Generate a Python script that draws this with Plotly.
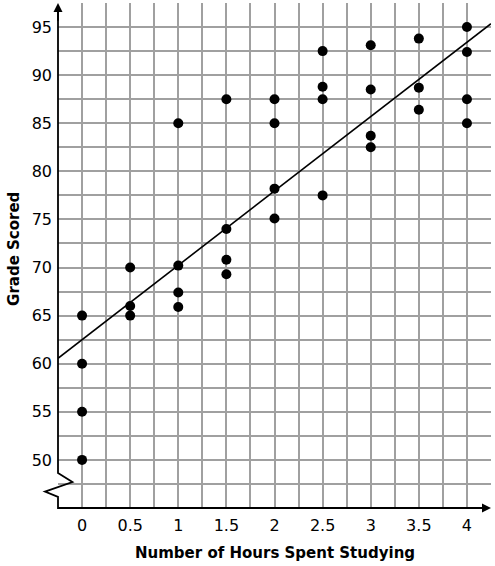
import plotly.graph_objects as go

# study hours vs grade
hours = [0, 0, 0, 0,
         0.5, 0.5, 0.5,
         1, 1, 1, 1,
         1.5, 1.5, 1.5, 1.5,
         2, 2, 2, 2,
         2.5, 2.5, 2.5, 2.5,
         3, 3, 3, 3,
         3.5, 3.5, 3.5,
         4, 4, 4, 4]
grades = [65, 60, 55, 50,
          70, 66, 65,
          85, 70.2, 67.4, 65.9,
          87.5, 74, 70.8, 69.3,
          87.5, 85, 78.2, 75.1,
          92.5, 88.8, 87.5, 77.5,
          93.1, 88.5, 83.7, 82.5,
          93.8, 88.7, 86.4,
          95, 92.4, 87.5, 85]

# line of best fit
trend_intercept = 62.5
trend_slope = 7.73

# grid every 0.25 h / 2.5 points, labels on every other line
x_grid = [-0.25, 0, 0.25, 0.5, 0.75, 1, 1.25, 1.5, 1.75, 2, 2.25,
          2.5, 2.75, 3, 3.25, 3.5, 3.75, 4, 4.25]
x_labels = ["", "0", "", "0.5", "", "1", "", "1.5", "", "2", "",
            "2.5", "", "3", "", "3.5", "", "4", ""]
y_grid = [45, 47.5, 50, 52.5, 55, 57.5, 60, 62.5, 65, 67.5, 70, 72.5,
          75, 77.5, 80, 82.5, 85, 87.5, 90, 92.5, 95, 97.5]
y_labels = ["", "", "50", "", "55", "", "60", "", "65", "", "70", "",
            "75", "", "80", "", "85", "", "90", "", "95", ""]

X_MIN, X_MAX = -0.25, 4.25
Y_MIN, Y_MAX = 45, 97.5

# y axis with a zigzag break near the bottom (data units)
break_x = [X_MIN, X_MIN, -0.1, -0.385, X_MIN, X_MIN, X_MAX - 0.03]
break_y = [Y_MAX - 0.3, 48.65, 47.7, 46.7, 46.15, Y_MIN, Y_MIN]

FONT = "DejaVu Sans"
GRID = "#a0a0a0"


def px(x):
    return (x - X_MIN) / (X_MAX - X_MIN)


def py(y):
    return (y - Y_MIN) / (Y_MAX - Y_MIN)


fig = go.Figure()

fig.add_trace(go.Scatter(
    x=[X_MIN, X_MAX],
    y=[trend_intercept + trend_slope * X_MIN, trend_intercept + trend_slope * X_MAX],
    mode="lines", line=dict(color="black", width=1.6),
    hoverinfo="skip", showlegend=False))

fig.add_trace(go.Scatter(
    x=hours, y=grades, mode="markers",
    marker=dict(color="black", size=10),
    showlegend=False))

# axes drawn as a paper path so the break isn't clipped
path = "M " + " L ".join(f"{px(a):.5f},{py(b):.5f}" for a, b in zip(break_x, break_y))
fig.add_shape(type="path", path=path, xref="paper", yref="paper",
              line=dict(color="black", width=1.8))

fig.add_annotation(x=X_MIN, y=Y_MAX, ax=X_MIN, ay=Y_MAX - 2,
                   xref="x", yref="y", axref="x", ayref="y",
                   showarrow=True, arrowhead=2, arrowsize=1, arrowwidth=1.8,
                   arrowcolor="black", text="")
fig.add_annotation(x=X_MAX, y=Y_MIN, ax=X_MAX - 0.2, ay=Y_MIN,
                   xref="x", yref="y", axref="x", ayref="y",
                   showarrow=True, arrowhead=2, arrowsize=1, arrowwidth=1.8,
                   arrowcolor="black", text="")

# axis titles
fig.add_annotation(text="<b>Number of Hours Spent Studying</b>",
                   x=0.5, y=0, xref="paper", yref="paper",
                   yanchor="middle", yshift=-45, showarrow=False,
                   font=dict(family=FONT, size=15, color="black"))
fig.add_annotation(text="<b>Grade Scored</b>", textangle=-90,
                   x=0, y=0.513, xref="paper", yref="paper",
                   xanchor="center", xshift=-44, showarrow=False,
                   font=dict(family=FONT, size=15, color="black"))

fig.update_xaxes(
    range=[X_MIN, X_MAX], tickvals=x_grid, ticktext=x_labels,
    showgrid=True, gridcolor=GRID, gridwidth=1.6,
    zeroline=False, showline=False, ticks="", ticklabelstandoff=6,
    automargin=False,
    tickfont=dict(family=FONT, size=16, color="black"))

fig.update_yaxes(
    range=[Y_MIN, Y_MAX], tickvals=y_grid, ticktext=y_labels,
    showgrid=True, gridcolor=GRID, gridwidth=1.6,
    zeroline=False, showline=False, ticks="", ticklabelstandoff=5,
    automargin=False,
    tickfont=dict(family=FONT, size=16, color="black"))

fig.update_layout(
    width=495, height=566,
    margin=dict(l=58, r=4, t=3, b=58),
    plot_bgcolor="white", paper_bgcolor="white",
    showlegend=False)

# drop the browser's default body margin so the figure sits at the corner
fig.write_html("out.html", config={"displayModeBar": False},
               post_script="document.body.style.margin='0';")
